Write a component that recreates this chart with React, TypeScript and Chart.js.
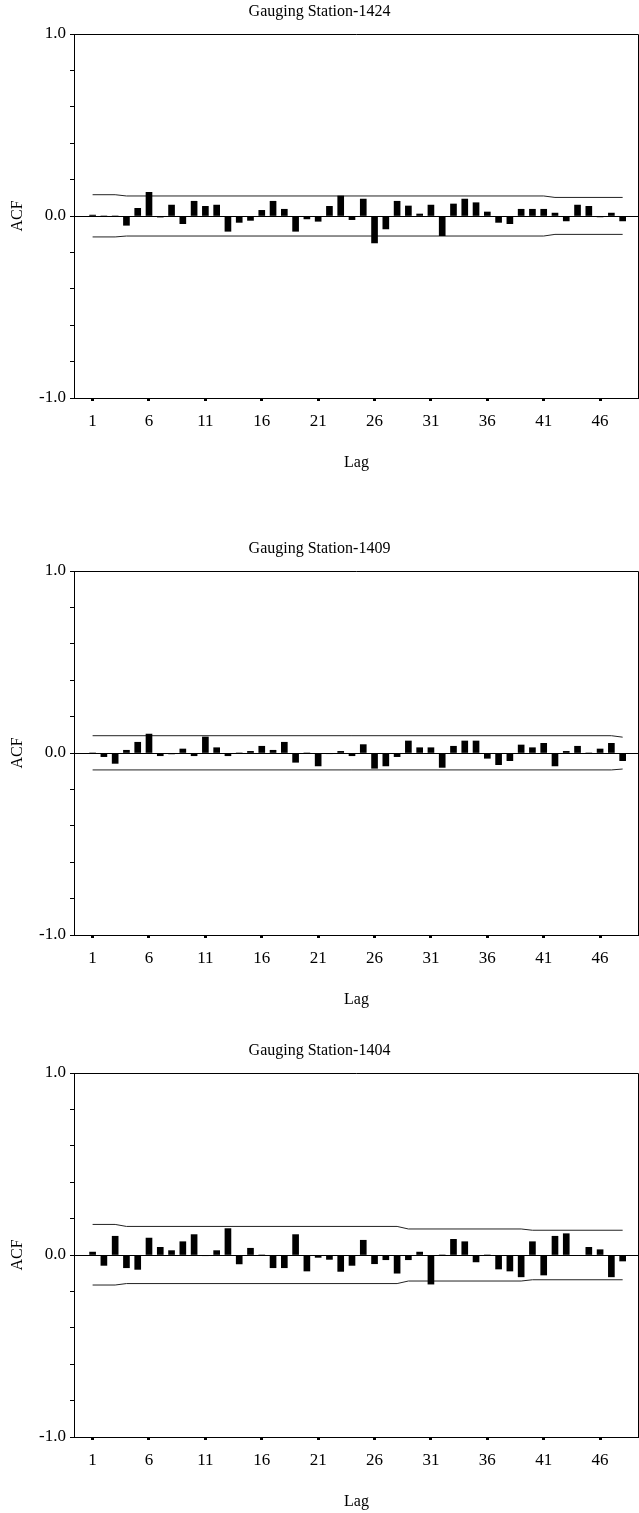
import React, { useEffect, useRef } from 'react';
import { Chart, registerables } from 'chart.js';

Chart.register(...registerables);

const lags = [
  1, 2, 3, 4, 5, 6, 7, 8, 9, 10, 11, 12, 13, 14, 15, 16, 17, 18, 19, 20, 21, 22, 23, 24,
  25, 26, 27, 28, 29, 30, 31, 32, 33, 34, 35, 36, 37, 38, 39, 40, 41, 42, 43, 44, 45, 46, 47, 48,
];
const tickLags = [1, 6, 11, 16, 21, 26, 31, 36, 41, 46];

const acf1424 = [
  0.005, 0.0, 0.0, -0.051, 0.042, 0.13, -0.006, 0.06, -0.042, 0.081,
  0.053, 0.06, -0.084, -0.035, -0.024, 0.031, 0.081, 0.037, -0.084, -0.016,
  -0.029, 0.053, 0.11, -0.02, 0.093, -0.148, -0.071, 0.081, 0.055, 0.011,
  0.06, -0.108, 0.066, 0.093, 0.073, 0.022, -0.035, -0.042, 0.037, 0.037,
  0.037, 0.016, -0.027, 0.06, 0.053, -0.005, 0.016, -0.027,
];
const acf1409 = [
  0.0, -0.02, -0.057, 0.015, 0.059, 0.104, -0.015, -0.005, 0.022, -0.015,
  0.088, 0.029, -0.015, 0.0, 0.009, 0.037, 0.015, 0.059, -0.051, 0.0,
  -0.071, -0.004, 0.009, -0.015, 0.046, -0.084, -0.071, -0.02, 0.066, 0.029,
  0.029, -0.079, 0.037, 0.066, 0.066, -0.029, -0.064, -0.042, 0.044, 0.029,
  0.053, -0.071, 0.009, 0.037, 0.0, 0.022, 0.053, -0.042,
];
const acf1404 = [
  0.016, -0.057, 0.103, -0.07, -0.079, 0.093, 0.042, 0.024, 0.073, 0.112,
  -0.004, 0.024, 0.145, -0.049, 0.037, 0.0, -0.07, -0.07, 0.112, -0.088,
  -0.013, -0.024, -0.09, -0.057, 0.081, -0.048, -0.026, -0.1, -0.026, 0.016,
  -0.16, 0.0, 0.086, 0.073, -0.038, 0.0, -0.077, -0.088, -0.12, 0.073,
  -0.11, 0.103, 0.117, -0.003, 0.042, 0.029, -0.12, -0.033,
];

const conf1424Lags = [1, 3, 4, 41, 42, 48];
const conf1424Upper = [0.117, 0.117, 0.11, 0.11, 0.102, 0.102];
const conf1424Lower = [-0.115, -0.115, -0.11, -0.11, -0.101, -0.101];

const conf1409Lags = [1, 47, 48];
const conf1409Upper = [0.095, 0.095, 0.087];
const conf1409Lower = [-0.093, -0.093, -0.088];

const conf1404Lags = [1, 3, 4, 28, 29, 39, 40, 48];
const conf1404Upper = [0.168, 0.168, 0.157, 0.157, 0.143, 0.143, 0.136, 0.136];
const conf1404Lower = [-0.165, -0.165, -0.157, -0.157, -0.143, -0.143, -0.136, -0.136];

const FONT = "'Liberation Serif', 'Times New Roman', serif";

const framePlugin = {
  id: 'frame',
  afterDatasetsDraw(chart: any) {
    const { ctx, chartArea: a } = chart;
    ctx.save();
    ctx.strokeStyle = '#000';
    ctx.lineWidth = 1;
    ctx.beginPath();
    ctx.moveTo(a.left, Math.round(a.top) + 0.5);
    ctx.lineTo(Math.round(a.right) - 0.5, Math.round(a.top) + 0.5);
    ctx.lineTo(Math.round(a.right) - 0.5, a.bottom);
    ctx.stroke();
    ctx.restore();
  },
};

type PanelProps = {
  title: string;
  acf: number[];
  confLags: number[];
  upper: number[];
  lower: number[];
  top: number;
};

function Panel({ title, acf, confLags, upper, lower, top }: PanelProps) {
  const ref = useRef<HTMLCanvasElement | null>(null);
  useEffect(() => {
    if (!ref.current) return;
    const near = (a: number, b: number) => Math.abs(a - b) < 1e-6;
    const chart = new Chart(ref.current, {
      type: 'bar',
      data: {
        datasets: [
          {
            type: 'line',
            data: confLags.map((l, i) => ({ x: l, y: upper[i] })),
            borderColor: '#222',
            borderWidth: 1,
            pointRadius: 0,
            fill: false,
            order: 2,
          } as any,
          {
            type: 'line',
            data: confLags.map((l, i) => ({ x: l, y: lower[i] })),
            borderColor: '#222',
            borderWidth: 1,
            pointRadius: 0,
            fill: false,
            order: 2,
          } as any,
          {
            type: 'bar',
            data: lags.map((l, i) => ({ x: l, y: acf[i] })),
            backgroundColor: '#000',
            borderWidth: 0,
            barThickness: 6,
            order: 1,
          } as any,
        ],
      },
      options: {
        animation: false,
        responsive: false,
        devicePixelRatio: 1,
        layout: { padding: 0 },
        plugins: {
          legend: { display: false },
          tooltip: { enabled: false },
          title: {
            display: true,
            text: title,
            color: '#000',
            font: { family: FONT, size: 16, weight: 'normal' },
            padding: { top: 2.4, bottom: 12.4 },
          },
        },
        scales: {
          x: {
            type: 'linear',
            min: -0.65,
            max: 49.45,
            offset: false,
            afterBuildTicks: (s: any) => {
              s.ticks = tickLags.map((v) => ({ value: v }));
            },
            afterFit: (s: any) => {
              s.height = 75;
            },
            grid: {
              offset: false,
              drawOnChartArea: false,
              drawTicks: true,
              tickLength: 3,
              tickWidth: 3,
              tickColor: '#000',
              color: '#000',
            },
            border: { display: true, color: '#000', width: 1 },
            ticks: {
              color: '#000',
              font: { family: FONT, size: 17 },
              padding: 10.8,
              maxRotation: 0,
              autoSkip: false,
              callback: (v: any) => String(v),
            },
            title: {
              display: true,
              text: 'Lag',
              color: '#000',
              font: { family: FONT, size: 16 },
              padding: { top: 0, bottom: 0.4 },
            },
          },
          y: {
            type: 'linear',
            min: -1,
            max: 1,
            afterFit: (s: any) => {
              s.width = 74;
            },
            grid: {
              offset: false,
              drawOnChartArea: true,
              drawTicks: true,
              tickLength: 4,
              tickColor: '#000',
              lineWidth: 1,
              color: (c: any) =>
                c.tick && near(c.tick.value, 0) ? '#000' : 'rgba(0,0,0,0)',
            },
            border: { display: true, color: '#000', width: 1 },
            ticks: {
              stepSize: 0.2,
              autoSkip: false,
              color: '#000',
              font: { family: FONT, size: 17 },
              padding: 4,
              callback: (v: any) =>
                near(v, 1) ? '1.0' : near(v, 0) ? '0.0' : near(v, -1) ? '-1.0' : '',
            },
            title: {
              display: true,
              text: 'ACF',
              color: '#000',
              font: { family: FONT, size: 16 },
              padding: { top: 8.4, bottom: 0 },
            },
          },
        },
      } as any,
      plugins: [framePlugin],
    });
    return () => chart.destroy();
  }, [title, acf, confLags, upper, lower]);

  return (
    <div style={{ position: 'absolute', left: 0, top, width: 639, height: 473 }}>
      <canvas ref={ref} width={639} height={473} style={{ display: 'block' }} />
    </div>
  );
}

export default function App() {
  return (
    <div style={{ position: 'absolute', left: 0, top: 0, width: 639, height: 1513, background: '#fff' }}>
      <Panel
        title="Gauging Station-1424"
        acf={acf1424}
        confLags={conf1424Lags}
        upper={conf1424Upper}
        lower={conf1424Lower}
        top={0}
      />
      <Panel
        title="Gauging Station-1409"
        acf={acf1409}
        confLags={conf1409Lags}
        upper={conf1409Upper}
        lower={conf1409Lower}
        top={537}
      />
      <Panel
        title="Gauging Station-1404"
        acf={acf1404}
        confLags={conf1404Lags}
        upper={conf1404Upper}
        lower={conf1404Lower}
        top={1039}
      />
    </div>
  );
}
